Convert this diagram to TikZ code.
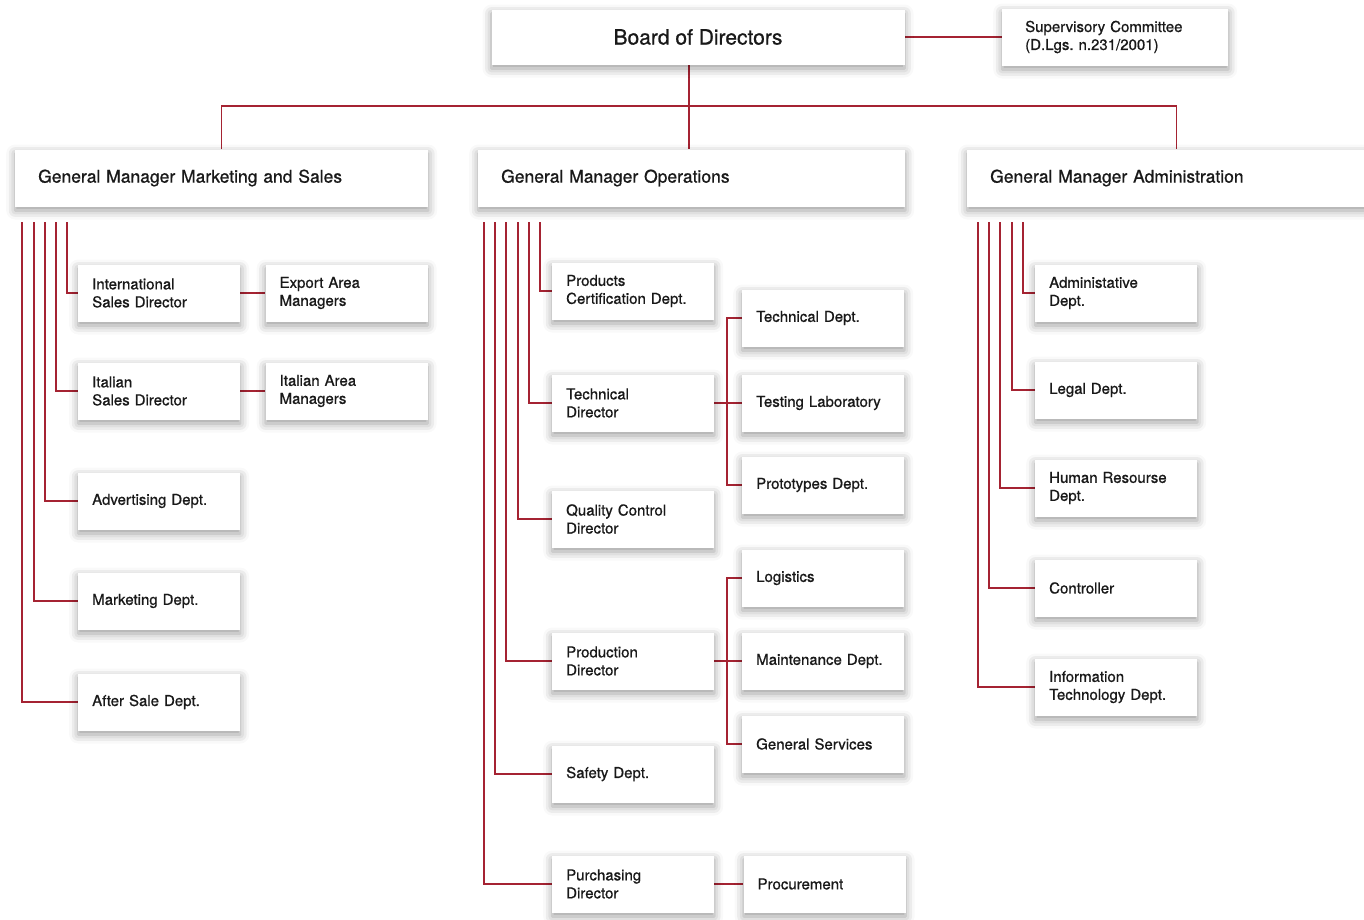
\documentclass[tikz,border=0pt]{standalone}
\usepackage{fontspec}
\setmainfont{TeX Gyre Heros}[RawFeature={embolden=0.8}]
\usetikzlibrary{positioning,shadows.blur,backgrounds}
\definecolor{linkred}{RGB}{165,35,50}
\definecolor{ink}{RGB}{25,25,25}

\begin{document}
\begin{tikzpicture}[x=1pt, y=-1pt, node distance=25pt]
				\tikzstyle{card} = [fill=white, text=ink, blur shadow={shadow xshift=0pt, shadow yshift=-4pt, shadow blur radius=9pt, shadow opacity=40}]
				\tikzstyle{head} = [card, anchor=west, minimum height=57pt, inner xsep=23pt, align=left, font=\fontsize{17.5}{20}\selectfont]
				\tikzstyle{unit} = [card, anchor=west, text width=134pt, minimum height=57pt, inner xsep=14pt, align=left, font=\fontsize{15}{18}\selectfont]
				\tikzstyle{link} = [draw=linkred, line width=1.2pt]
				\useasboundingbox (0,0) rectangle (1364,919);
				\node[card, minimum width=413pt, minimum height=55pt, font=\fontsize{21}{24}\selectfont] (board) at (698,37) {Board of Directors};
				\node[head, text width=180pt, font=\fontsize{15}{18}\selectfont] (sup) at (1002,37) {Supervisory Committee\\(D.Lgs.\ n.231/2001)};
				\node[head, text width=367pt] (gms) at (15,178) {General Manager Marketing and Sales};
				\node[head, text width=381pt] (gmo) at (478,178) {General Manager Operations};
				\node[head, text width=372pt] (gma) at (967,178) {General Manager Administration};
				\begin{scope}
					\node[unit] (isd) at (78,293) {International\\Sales Director};
					\node[unit, right=of isd] (eam) {Export Area\\Managers};
					\node[unit] (itsd) at (78,391) {Italian\\Sales Director};
					\node[unit, right=of itsd] (iam) {Italian Area\\Managers};
					\node[unit] (adv) at (78,501) {Advertising Dept.};
					\node[unit] (mkd) at (78,601) {Marketing Dept.};
					\node[unit] (asd) at (78,702) {After Sale Dept.};
				\end{scope}
				\begin{scope}
					\node[unit] (pcd) at (552,291) {Products\\Certification Dept.};
					\node[unit] (td) at (552,403) {Technical\\Director};
					\node[unit] (qcd) at (552,519) {Quality Control\\Director};
					\node[unit] (pd) at (552,661) {Production\\Director};
					\node[unit] (sfd) at (552,774) {Safety Dept.};
					\node[unit] (pud) at (552,884) {Purchasing\\Director};
					\node[unit] (tdept) at (742,318) {Technical Dept.};
					\node[unit] (tlab) at (742,403) {Testing Laboratory};
					\node[unit] (prot) at (742,485) {Prototypes Dept.};
					\node[unit] (log) at (742,578) {Logistics};
					\node[unit] (mnt) at (742,661) {Maintenance Dept.};
					\node[unit] (gsv) at (742,744) {General Services};
					\node[unit, right=29pt of pud] (proc) {Procurement};
				\end{scope}
				\begin{scope}
					\node[unit] (adm) at (1035,293) {Administative\\Dept.};
					\node[unit] (leg) at (1035,390) {Legal Dept.};
					\node[unit] (hrd) at (1035,488) {Human Resourse\\Dept.};
					\node[unit] (ctl) at (1035,588) {Controller};
					\node[unit] (itd) at (1035,687) {Information\\Technology Dept.};
				\end{scope}
				\begin{pgfonlayer}{background}
					\coordinate (bus) at (689,106);
					\coordinate (tb) at (727,300);
					\draw[link] (board) -- (sup);
					\draw[link] (board.south -| bus) -- (bus |- gmo.north);
					\draw[link] (gms.north) |- (bus) -| (gma.north);
					\foreach \x/\t in {22/asd, 34/mkd, 45/adv, 56/itsd, 67/isd, 484/pud, 495/sfd, 506/pd, 518/qcd, 529/td, 540/pcd, 978/itd, 989/ctl, 1000/hrd, 1012/leg, 1023/adm} {
						\coordinate (f-\t) at (\x,222);
						\draw[link] (f-\t) |- (\t);
					}
					\draw[link] (isd) -- (eam);
					\draw[link] (itsd) -- (iam);
					\draw[link] (td) -- (tlab);
					\draw[link] (tdept.west) -- (tdept.west -| tb) -- (prot.west -| tb) -- (prot.west);
					\draw[link] (pd) -- (mnt);
					\draw[link] (log.west) -- (log.west -| tb) -- (gsv.west -| tb) -- (gsv.west);
					\draw[link] (pud) -- (proc);
				\end{pgfonlayer}
			\end{tikzpicture}
\end{document}
